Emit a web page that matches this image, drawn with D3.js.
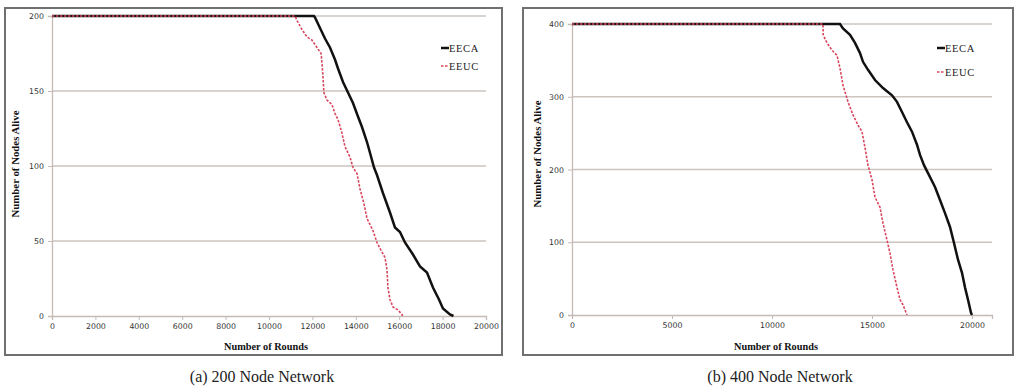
<!DOCTYPE html>
<html>
<head>
<meta charset="utf-8">
<script src="https://cdn.jsdelivr.net/npm/d3@7"></script>
<style>
  html, body { margin: 0; padding: 0; background: #fff; }
  svg { display: block; }
</style>
</head>
<body>
<svg id="chart" width="1017" height="390"></svg>
<script>
// ---- Data ----
const seriesNames = ["EECA", "EEUC"];

// (a) 200 node network
const roundsA_EECA = [0, 12070, 12120, 12350, 12580, 12810, 13040, 13180, 13410, 13640, 13870, 14100, 14285, 14515, 14650, 14840, 14976, 15250, 15575, 15805, 16036, 16266, 16635, 16958, 17280, 17556, 17833, 18017, 18340, 18500];
const aliveA_EECA  = [200, 200, 199, 192, 185, 179, 171, 165, 156, 149, 142, 133, 126, 116, 109, 99, 94, 82, 69, 59, 56, 49, 41, 33, 29, 19, 11, 5, 1, 0];
const roundsA_EEUC = [0, 11200, 11290, 11520, 11750, 11980, 12210, 12400, 12440, 12490, 12530, 12670, 12900, 13040, 13180, 13360, 13500, 13730, 13870, 14055, 14190, 14375, 14515, 14790, 14976, 15115, 15345, 15437, 15480, 15575, 15715, 15945, 16128, 16150];
const aliveA_EEUC  = [200, 200, 197, 191, 186, 184, 179, 175, 169, 159, 149, 144, 141, 135, 131, 122, 113, 106, 99, 95, 85, 75, 65, 57, 49, 45, 39, 31, 19, 11, 6, 4, 1, 0];
const xTicksA = [0, 2000, 4000, 6000, 8000, 10000, 12000, 14000, 16000, 18000, 20000];
const yTicksA = [0, 50, 100, 150, 200];

// (b) 400 node network
const roundsB_EECA = [0, 13400, 13550, 13900, 14150, 14400, 14550, 14800, 15150, 15550, 16000, 16250, 16500, 16750, 17000, 17250, 17400, 17600, 17800, 18150, 18400, 18650, 18900, 19100, 19300, 19500, 19650, 19800, 19950, 20000];
const aliveB_EECA  = [400, 400, 394, 385, 374, 360, 348, 337, 323, 312, 302, 293, 279, 265, 252, 234, 220, 206, 195, 176, 158, 140, 121, 99, 76, 58, 38, 21, 3, 0];
const roundsB_EEUC = [0, 12550, 12560, 12750, 13000, 13250, 13400, 13550, 13800, 14050, 14300, 14500, 14650, 14800, 15000, 15150, 15400, 15550, 15750, 15900, 16050, 16250, 16400, 16550, 16750];
const aliveB_EEUC  = [400, 400, 385, 374, 364, 357, 339, 316, 293, 275, 261, 252, 230, 206, 186, 162, 148, 126, 103, 85, 62, 38, 21, 14, 0];
const xTicksB = [0, 5000, 10000, 15000, 20000];
const yTicksB = [0, 100, 200, 300, 400];

const captions = ["(a) 200 Node Network", "(b) 400 Node Network"];
const xTitle = "Number of Rounds";
const yTitle = "Number of Nodes Alive";

// ---- Layout ----
const panels = [
  {
    frame: {x: 5, y: 8, w: 497, h: 347},
    plot: {l: 52, r: 486, t: 16, b: 316},
    xDomain: [0, 20000], yDomain: [0, 200],
    xTicks: xTicksA, yTicks: yTicksA,
    eeca: {x: roundsA_EECA, y: aliveA_EECA},
    eeuc: {x: roundsA_EEUC, y: aliveA_EEUC},
    legend: {x: 441, y1: 48, y2: 66},
    yTitleX: 15, yTitleY: 164,
    xTitleX: 266, xTitleY: 350,
    caption: captions[0], capX: 262, capY: 382
  },
  {
    frame: {x: 523, y: 8, w: 490, h: 347},
    plot: {l: 572, r: 992, t: 24, b: 315},
    xDomain: [0, 21000], yDomain: [0, 400],
    xTicks: xTicksB, yTicks: yTicksB,
    eeca: {x: roundsB_EECA, y: aliveB_EECA},
    eeuc: {x: roundsB_EEUC, y: aliveB_EEUC},
    legend: {x: 937, y1: 48, y2: 72},
    yTitleX: 537, yTitleY: 154,
    xTitleX: 776, xTitleY: 350,
    caption: captions[1], capX: 780, capY: 382
  }
];

const svg = d3.select("#chart");
const gridColor = "#cdc4c0";

panels.forEach(p => {
  const g = svg.append("g");

  // frame
  g.append("rect")
    .attr("x", p.frame.x).attr("y", p.frame.y)
    .attr("width", p.frame.w).attr("height", p.frame.h)
    .attr("fill", "#fff").attr("stroke", "#707070").attr("stroke-width", 2);

  const x = d3.scaleLinear().domain(p.xDomain).range([p.plot.l, p.plot.r]);
  const y = d3.scaleLinear().domain(p.yDomain).range([p.plot.b, p.plot.t]);

  // gridlines
  g.append("g")
    .selectAll("line").data(p.yTicks.filter(d => d !== 0)).join("line")
    .attr("x1", p.plot.l).attr("x2", p.plot.r)
    .attr("y1", d => y(d)).attr("y2", d => y(d))
    .attr("stroke", gridColor).attr("stroke-width", 1.3);

  // y axis
  const yAxis = g.append("g")
    .attr("transform", `translate(${p.plot.l},0)`)
    .call(d3.axisLeft(y).tickValues(p.yTicks).tickSize(4).tickPadding(4).tickFormat(d3.format("d")));
  // x axis
  const xAxis = g.append("g")
    .attr("transform", `translate(0,${p.plot.b})`)
    .call(d3.axisBottom(x).tickValues(p.xTicks).tickSize(4).tickPadding(3).tickFormat(d3.format("d")));

  [yAxis, xAxis].forEach(ax => {
    ax.select(".domain").attr("stroke", "#c4bbb7").attr("stroke-width", 1.3);
    ax.selectAll(".tick line").attr("stroke", "#c4bbb7");
    ax.selectAll(".tick text")
      .attr("fill", "#333")
      .style("font-family", "'DejaVu Sans', sans-serif")
      .style("font-size", "7.8px");
  });

  const line = d3.line().x(d => x(d[0])).y(d => y(d[1]));

  // EECA (solid black)
  g.append("path")
    .datum(d3.zip(p.eeca.x, p.eeca.y))
    .attr("d", line)
    .attr("fill", "none").attr("stroke", "#111").attr("stroke-width", 2.5)
    .attr("stroke-linejoin", "miter");

  // EEUC (dashed red)
  g.append("path")
    .datum(d3.zip(p.eeuc.x, p.eeuc.y))
    .attr("d", line)
    .attr("fill", "none").attr("stroke", "#d8455e").attr("stroke-width", 1.6)
    .attr("stroke-dasharray", "2.5,1.5");

  // legend
  const lg = g.append("g").style("font-family", "'Liberation Serif', serif").style("font-size", "10.5px");
  lg.append("line").attr("x1", p.legend.x).attr("x2", p.legend.x + 8)
    .attr("y1", p.legend.y1).attr("y2", p.legend.y1)
    .attr("stroke", "#111").attr("stroke-width", 2.5);
  lg.append("text").attr("x", p.legend.x + 8).attr("y", p.legend.y1 + 3.5)
    .attr("fill", "#1a1a1a").style("letter-spacing", "0.6px").text(seriesNames[0]);
  lg.append("line").attr("x1", p.legend.x).attr("x2", p.legend.x + 8)
    .attr("y1", p.legend.y2).attr("y2", p.legend.y2)
    .attr("stroke", "#d8455e").attr("stroke-width", 1.4).attr("stroke-dasharray", "2.5,1.5");
  lg.append("text").attr("x", p.legend.x + 8).attr("y", p.legend.y2 + 3.5)
    .attr("fill", "#1a1a1a").style("letter-spacing", "0.6px").text(seriesNames[1]);

  // axis titles
  g.append("text")
    .attr("x", p.xTitleX).attr("y", p.xTitleY)
    .attr("text-anchor", "middle")
    .style("font-family", "'Liberation Serif', serif").style("font-weight", "bold").style("font-size", "10.3px")
    .attr("fill", "#111").text(xTitle);
  g.append("text")
    .attr("transform", `translate(${p.yTitleX},${p.yTitleY}) rotate(-90)`)
    .attr("text-anchor", "middle").attr("dy", "0.35em")
    .style("font-family", "'Liberation Serif', serif").style("font-weight", "bold").style("font-size", "10.8px")
    .attr("fill", "#111").text(yTitle);

  // caption
  svg.append("text")
    .attr("x", p.capX).attr("y", p.capY)
    .attr("text-anchor", "middle")
    .style("font-family", "'Liberation Serif', serif").style("font-size", "16px")
    .attr("fill", "#222").text(p.caption);
});
</script>
</body>
</html>
